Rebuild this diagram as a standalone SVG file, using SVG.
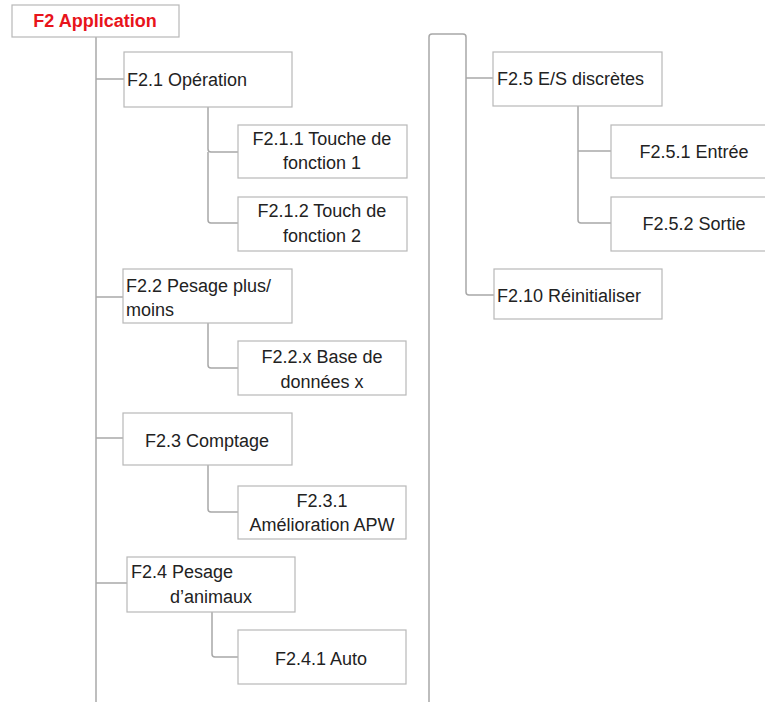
<svg xmlns="http://www.w3.org/2000/svg" width="765" height="702" viewBox="0 0 765 702">
  <style>
    .box { fill: #ffffff; stroke: #b8b8b8; stroke-width: 1.2; }
    .lbl { font-family: "Liberation Sans", Arial, sans-serif; font-size: 18px; fill: #222222; }
    .mid { text-anchor: middle; }
    .title { font-family: "Liberation Sans", Arial, sans-serif; font-size: 18px; font-weight: bold; fill: #e8141b; text-anchor: middle; }
    .wire { fill: none; stroke: #a8a8a8; stroke-width: 1.5; stroke-linejoin: round; }
  </style>
  <rect width="765" height="702" fill="#ffffff"/>

  <!-- connectors -->
  <g id="connectors" class="wire">
    <path d="M96 37 V702"/>
    <path d="M96 79 H124"/>
    <path d="M96 297 H123"/>
    <path d="M96 438 H123"/>
    <path d="M96 583 H127"/>
    <path d="M208 107 V149 Q208 152 211 152 H238"/>
    <path d="M208 152 V220 Q208 223 211 223 H238"/>
    <path d="M208 323 V365 Q208 368 211 368 H238"/>
    <path d="M208 465 V509 Q208 512 211 512 H238"/>
    <path d="M212 612 V654 Q212 657 215 657 H238"/>
    <path d="M429 702 V37 Q429 34 432 34 H463 Q466 34 466 37 V292 Q466 295 469 295 H494"/>
    <path d="M466 78 H493"/>
    <path d="M578 106 V220 Q578 223 581 223 H611"/>
    <path d="M578 151 H611"/>
  </g>

  <g id="f2">
    <rect class="box" x="12" y="5" width="167" height="32"/>
    <text class="title" x="95" y="27">F2 Application</text>
  </g>

  <g id="f2-1">
    <rect class="box" x="124" y="52" width="168" height="55"/>
    <text class="lbl" x="127" y="86">F2.1 Opération</text>
  </g>
  <g id="f2-1-1">
    <rect class="box" x="238" y="125" width="169" height="53"/>
    <text class="lbl mid" x="322" y="145">F2.1.1 Touche de</text>
    <text class="lbl mid" x="322" y="169">fonction 1</text>
  </g>
  <g id="f2-1-2">
    <rect class="box" x="238" y="197" width="169" height="54"/>
    <text class="lbl mid" x="322" y="217">F2.1.2 Touch de</text>
    <text class="lbl mid" x="322" y="242">fonction 2</text>
  </g>

  <g id="f2-2">
    <rect class="box" x="123" y="269" width="169" height="54"/>
    <text class="lbl" x="126" y="292">F2.2 Pesage plus/</text>
    <text class="lbl" x="126" y="316">moins</text>
  </g>
  <g id="f2-2-x">
    <rect class="box" x="238" y="341" width="168" height="54"/>
    <text class="lbl mid" x="322" y="363">F2.2.x Base de</text>
    <text class="lbl mid" x="322" y="388">données x</text>
  </g>

  <g id="f2-3">
    <rect class="box" x="123" y="413" width="169" height="52"/>
    <text class="lbl mid" x="207" y="447">F2.3 Comptage</text>
  </g>
  <g id="f2-3-1">
    <rect class="box" x="238" y="486" width="168" height="53"/>
    <text class="lbl mid" x="322" y="507">F2.3.1</text>
    <text class="lbl mid" x="322" y="531">Amélioration APW</text>
  </g>

  <g id="f2-4">
    <rect class="box" x="127" y="557" width="168" height="55"/>
    <text class="lbl" x="131" y="578">F2.4 Pesage</text>
    <text class="lbl" x="170" y="603">d’animaux</text>
  </g>
  <g id="f2-4-1">
    <rect class="box" x="238" y="630" width="168" height="54"/>
    <text class="lbl mid" x="321" y="665">F2.4.1 Auto</text>
  </g>

  <g id="f2-5">
    <rect class="box" x="493" y="52" width="169" height="54"/>
    <text class="lbl" x="497" y="85">F2.5 E/S discrètes</text>
  </g>
  <g id="f2-5-1">
    <rect class="box" x="611" y="125" width="168" height="53"/>
    <text class="lbl mid" x="694" y="158">F2.5.1 Entrée</text>
  </g>
  <g id="f2-5-2">
    <rect class="box" x="611" y="197" width="168" height="54"/>
    <text class="lbl mid" x="694" y="230">F2.5.2 Sortie</text>
  </g>

  <g id="f2-10">
    <rect class="box" x="494" y="269" width="168" height="50"/>
    <text class="lbl" x="497" y="302">F2.10 Réinitialiser</text>
  </g>
</svg>
